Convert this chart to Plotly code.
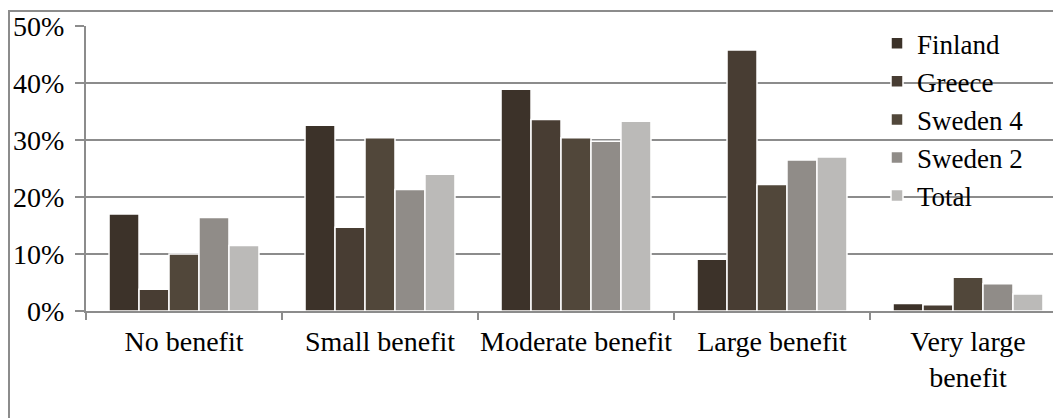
import plotly.graph_objects as go

categories = ["No benefit", "Small benefit", "Moderate benefit", "Large benefit", "Very large<br>benefit"]
finland = [0.170, 0.326, 0.389, 0.091, 0.013]
greece = [0.038, 0.147, 0.336, 0.458, 0.011]
sweden4 = [0.100, 0.304, 0.304, 0.222, 0.059]
sweden2 = [0.164, 0.213, 0.298, 0.265, 0.048]
total = [0.115, 0.240, 0.333, 0.270, 0.030]

series = [
    ("Finland", finland, "#3c3229"),
    ("Greece", greece, "#483d33"),
    ("Sweden 4", sweden4, "#51473a"),
    ("Sweden 2", sweden2, "#908c88"),
    ("Total", total, "#bbbab8"),
]

FONT = "Liberation Serif, Times New Roman, serif"
GRID = "#8c8c8c"

fig = go.Figure()
for name, vals, col in series:
    fig.add_trace(go.Bar(
        name=name, x=categories, y=vals,
        marker=dict(color=col, line=dict(color="white", width=1.5)),
    ))

W, H = 1053, 418
left, right, top, bottom = 86, 1053, 26, 311
pw, ph = right - left, bottom - top

fig.update_layout(
    width=W, height=H,
    margin=dict(l=left, r=W - right, t=top, b=H - bottom, pad=0, autoexpand=False),
    paper_bgcolor="white", plot_bgcolor="white",
    barmode="group", bargap=0.235, bargroupgap=0,
    font=dict(family=FONT, size=28, color="#000000"),
    showlegend=True,
    legend=dict(
        x=(877 - left) / pw, y=1.024, xanchor="left", yanchor="top",
        bgcolor="rgba(0,0,0,0)", font=dict(family=FONT, size=27),
        itemwidth=30, traceorder="normal", tracegroupgap=0,
    ),
    xaxis=dict(
        range=[-0.5, -0.5 + pw / 196],
        showgrid=False, showline=True, linecolor=GRID, linewidth=2,
        ticks="outside", tickson="boundaries", ticklen=7, tickwidth=2, tickcolor=GRID,
        tickfont=dict(family=FONT, size=28), ticklabelstandoff=4,
        tickangle=0, automargin=False,
    ),
    yaxis=dict(
        range=[0, 0.5], dtick=0.1, tickformat=".0%",
        showgrid=True, gridcolor=GRID, gridwidth=2,
        showline=True, linecolor=GRID, linewidth=2,
        ticks="outside", ticklen=9, tickwidth=2, tickcolor=GRID,
        tickfont=dict(family=FONT, size=28), zeroline=False,
        ticklabelstandoff=5, automargin=False,
    ),
)

# outer chart frame
fig.add_shape(
    type="rect", xref="paper", yref="paper",
    x0=(9 - left) / pw, x1=1.2, y0=-0.6, y1=(bottom - 11) / ph,
    line=dict(color=GRID, width=2), layer="below",
)

fig.write_html("out.html")
